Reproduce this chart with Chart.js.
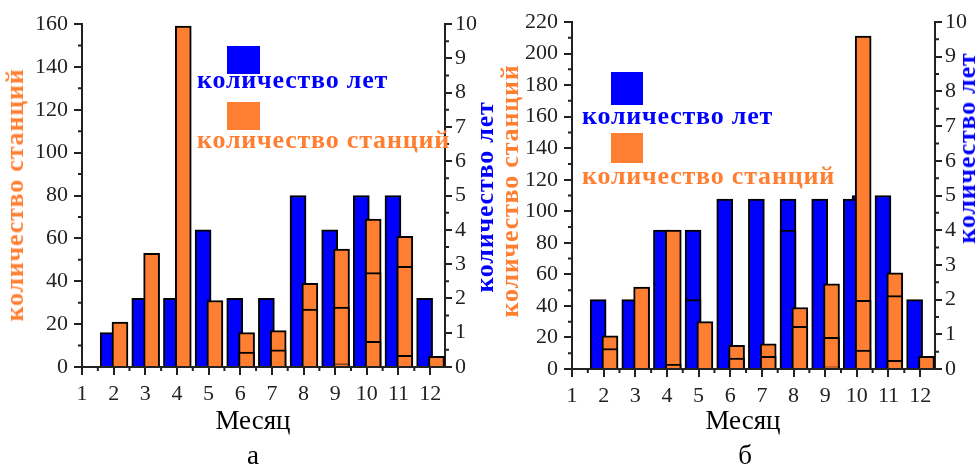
<!DOCTYPE html>
<html>
<head>
<meta charset="utf-8">
<script src="https://cdn.jsdelivr.net/npm/chart.js@4/dist/chart.umd.min.js"></script>
<style>
  body { margin: 0; background: #fff; width: 978px; height: 468px; position: relative; overflow: hidden; font-family: "Liberation Serif", serif; }
  .panel { position: absolute; top: 0; width: 489px; height: 468px; }
  .t { position: absolute; white-space: nowrap; line-height: 1; }
  .lg { font-weight: bold; font-size: 26px; letter-spacing: 0.8px; }
  .rot { transform: translate(-50%, -50%) rotate(-90deg); }
  .mid { transform: translateX(-50%); }
  .sw { position: absolute; }
  .blue { color: #0000ff; }
  .orange { color: #ff7f32; }
</style>
</head>
<body>
<div class="panel" style="left:0"><canvas id="chartA"></canvas></div>
<div class="panel" style="left:489px"><canvas id="chartB"></canvas></div>

<!-- легенда а -->
<div class="sw" style="left:227px;top:46px;width:33px;height:28px;background:#0000ff"></div>
<div class="t lg blue" style="left:197px;top:67px">количество лет</div>
<div class="sw" style="left:227px;top:102px;width:33px;height:28px;background:#ff7f32"></div>
<div class="t lg orange" style="left:197px;top:127px">количество станций</div>
<!-- легенда б -->
<div class="sw" style="left:611px;top:72px;width:32px;height:33px;background:#0000ff"></div>
<div class="t lg blue" style="left:582px;top:103px">количество лет</div>
<div class="sw" style="left:611px;top:133px;width:32px;height:30px;background:#ff7f32"></div>
<div class="t lg orange" style="left:582px;top:163px">количество станций</div>

<!-- подписи осей -->
<div class="t lg orange rot" style="left:15px;top:195px">количество станций</div>
<div class="t lg blue rot" style="left:485px;top:197px">количество лет</div>
<div class="t lg orange rot" style="left:510px;top:191px">количество станций</div>
<div class="t lg blue rot" style="left:967px;top:148px">количество лет</div>

<div class="t mid" style="left:253px;top:407px;font-size:27px">Месяц</div>
<div class="t mid" style="left:253px;top:442px;font-size:27px">а</div>
<div class="t mid" style="left:743px;top:407px;font-size:27px">Месяц</div>
<div class="t mid" style="left:745px;top:442px;font-size:27px">б</div>

<script>
const months = [1, 2, 3, 4, 5, 6, 7, 8, 9, 10, 11, 12];

// а
const yearsA     = [null, 1, 2, 2, 4, 2, 2, 5, 4, 5, 5, 2];
const stationsA  = [null, 21, 53, 159, 31, 16, 17, 39, 55, 69, 61, 5];
const stationsA2 = [null, null, null, null, null, 7, 8, 27, 28, 44, 47, null];
const stationsA3 = [null, null, null, null, null, null, null, null, 1.5, 12, 5.5, null];

// б
const yearsB     = [null, 2, 2, 4, 4, 4.9, 4.9, 4.9, 4.9, 4.9, 5, 2];
const yearsB2    = [null, null, null, null, 2, null, null, 4, null, null, null, null];
const yearsB3    = [null, null, null, null, null, null, null, null, null, 5, null, null];
const stationsB  = [null, 21, 52, 88, 30, 15, 16, 39, 54, 211, 61, 8];
const stationsB2 = [null, 13, null, 3, null, 7, 8, 27, 20, 43.5, 46.5, null];
const stationsB3 = [null, null, null, null, null, null, null, null, 1.3, 12, 5.5, null];

const BLUE = "#0000ff";
const ORANGE = "#ff7f32";
const AXIS = "#222";
const tickFont = { family: "Liberation Serif", size: 22 };

function bars(values, shift, color, order, axis) {
  return {
    data: months.map((m, i) => ({ x: m + shift, y: values[i] })).filter(p => p.y !== null),
    backgroundColor: color,
    borderColor: "#000",
    borderWidth: 2,
    barThickness: 16,
    grouped: false,
    yAxisID: axis,
    order: order,
  };
}

// короткие промежуточные штрихи на осях
const minorTicks = {
  id: "minorTicks",
  afterDraw(chart, args, opts) {
    const ctx = chart.ctx;
    const area = chart.chartArea;
    ctx.save();
    ctx.strokeStyle = AXIS;
    ctx.lineWidth = 2;
    ctx.beginPath();
    const x = chart.scales.x;
    for (let v = 1.5; v < x.max; v += 1) {
      const px = x.getPixelForValue(v);
      ctx.moveTo(px, area.bottom); ctx.lineTo(px, area.bottom + 4);
    }
    const y = chart.scales.y;
    for (let v = opts.leftStep / 2; v < y.max; v += opts.leftStep) {
      const py = y.getPixelForValue(v);
      ctx.moveTo(area.left, py); ctx.lineTo(area.left - 4, py);
    }
    const y1 = chart.scales.y1;
    for (let v = 0.5; v < y1.max; v += 1) {
      const py = y1.getPixelForValue(v);
      ctx.moveTo(area.right, py); ctx.lineTo(area.right + 4, py);
    }
    ctx.stroke();
    ctx.restore();
  }
};

function makeChart(id, datasets, leftMax, leftStep, box) {
  const W = 489, H = 468;
  new Chart(document.getElementById(id), {
    type: "bar",
    data: { datasets: datasets },
    options: {
      responsive: true,
      maintainAspectRatio: false,
      animation: false,
      layout: { padding: { top: box.top, left: 0, right: 0, bottom: 0 } },
      plugins: {
        legend: { display: false },
        tooltip: { enabled: false },
        minorTicks: { leftStep: leftStep },
      },
      scales: {
        x: {
          type: "linear",
          min: 1,
          max: 12.47,
          offset: false,
          afterBuildTicks: s => { s.ticks = months.map(v => ({ value: v })); },
          afterFit: s => { s.height = H - box.bottom; },
          ticks: { font: tickFont, color: AXIS, padding: 6, maxRotation: 0, autoSkip: false },
          grid: { drawOnChartArea: false, offset: false, tickLength: 8, color: AXIS, lineWidth: 2 },
          border: { color: AXIS, width: 2 },
        },
        y: {
          position: "left",
          min: 0,
          max: leftMax,
          afterFit: s => { s.width = box.left; },
          ticks: { stepSize: 20, font: tickFont, color: AXIS, padding: 6 },
          grid: { drawOnChartArea: false, tickLength: 8, color: AXIS, lineWidth: 2 },
          border: { color: AXIS, width: 2 },
        },
        y1: {
          position: "right",
          min: 0,
          max: 10,
          afterFit: s => { s.width = W - box.right; },
          ticks: { stepSize: 1, font: tickFont, color: AXIS, padding: 3 },
          grid: { drawOnChartArea: false, tickLength: 7, color: AXIS, lineWidth: 2 },
          border: { color: AXIS, width: 2 },
        },
      },
    },
    plugins: [minorTicks],
  });
}

makeChart("chartA", [
  bars(stationsA3, 0.2, ORANGE, 1, "y"),
  bars(stationsA2, 0.2, ORANGE, 2, "y"),
  bars(stationsA, 0.2, ORANGE, 3, "y"),
  bars(yearsA, -0.174, BLUE, 5, "y1"),
], 160, 20, { left: 82, right: 445, top: 24, bottom: 367 });

makeChart("chartB", [
  bars(stationsB3, 0.2, ORANGE, 1, "y"),
  bars(stationsB2, 0.2, ORANGE, 2, "y"),
  bars(stationsB, 0.2, ORANGE, 3, "y"),
  bars(yearsB2, -0.174, BLUE, 4, "y1"),
  bars(yearsB, -0.174, BLUE, 5, "y1"),
  bars(yearsB3, 0.1, BLUE, 6, "y1"),
], 220, 20, { left: 83, right: 446, top: 22, bottom: 369 });
</script>
</body>
</html>
